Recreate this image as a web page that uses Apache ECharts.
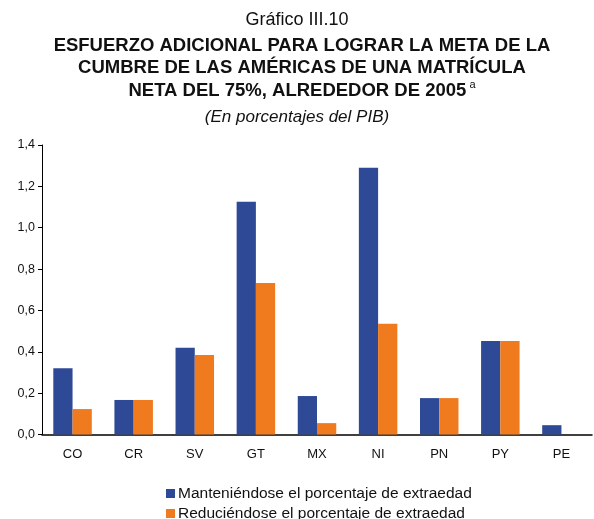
<!DOCTYPE html>
<html>
<head>
<meta charset="utf-8">
<script src="https://cdn.jsdelivr.net/npm/echarts@6/dist/echarts.min.js"></script>
<style>
html, body { margin: 0; padding: 0; background: #fff; }
#chart { width: 594px; height: 519px; }
</style>
</head>
<body>
<div id="chart"></div>
<script>
var countries = ['CO', 'CR', 'SV', 'GT', 'MX', 'NI', 'PN', 'PY', 'PE'];
var seriesNames = ['Manteniéndose el porcentaje de extraedad', 'Reduciéndose el porcentaje de extraedad'];
var keepData = [0.32, 0.167, 0.42, 1.125, 0.186, 1.29, 0.176, 0.452, 0.045];
var reduceData = [0.123, 0.167, 0.385, 0.733, 0.055, 0.535, 0.176, 0.452, 0];

var chart = echarts.init(document.getElementById('chart'));
var font = 'Liberation Sans, Arial, Helvetica, sans-serif';

function legendAt(name, top) {
    return {
        left: 161, top: top,
        itemWidth: 9, itemHeight: 9,
        icon: 'rect',
        textStyle: {fontFamily: font, fontSize: 15.5, color: '#111', padding: [0, 0, 0, -2]},
        data: [name]
    };
}

var option = {
    animation: false,
    title: [
        {
            text: 'Gráfico III.10',
            left: 'center', top: 6,
            textStyle: {fontFamily: font, fontSize: 18, fontWeight: 'normal', color: '#111'}
        },
        {
            text: 'ESFUERZO ADICIONAL PARA LOGRAR LA META DE LA\nCUMBRE DE LAS AMÉRICAS DE UNA MATRÍCULA\nNETA DEL 75%, ALREDEDOR DE 2005{sup| a}',
            left: 297, top: 29.5,
            textAlign: 'center',
            textStyle: {
                fontFamily: font, fontSize: 18.5, fontWeight: 'bold', color: '#111', lineHeight: 22.5,
                rich: {sup: {fontFamily: font, fontSize: 11, fontWeight: 'normal', color: '#111', verticalAlign: 'top', lineHeight: 22.5}}
            }
        },
        {
            text: '(En porcentajes del PIB)',
            left: 'center', top: 104,
            textStyle: {fontFamily: font, fontSize: 17, fontWeight: 'normal', fontStyle: 'italic', color: '#111'}
        }
    ],
    legend: [
        legendAt(seriesNames[0], 480.5),
        legendAt(seriesNames[1], 500.5)
    ],
    grid: {left: 42, right: 2, top: 145, bottom: 84.5},
    xAxis: {
        type: 'category',
        data: countries,
        axisLine: {lineStyle: {color: '#000', width: 1.5}},
        axisTick: {length: 4, lineStyle: {color: '#000'}},
        axisLabel: {fontFamily: font, fontSize: 13, color: '#111', margin: 13}
    },
    yAxis: {
        type: 'value',
        min: 0, max: 1.4, interval: 0.2,
        splitLine: {show: false},
        axisLine: {show: true, lineStyle: {color: '#000', width: 1}},
        axisTick: {show: true, length: 4, lineStyle: {color: '#000'}},
        axisLabel: {
            fontFamily: font, fontSize: 12.5, color: '#111', margin: 7,
            formatter: function (v) { return v.toFixed(1).replace('.', ','); }
        }
    },
    series: [
        {
            name: seriesNames[0],
            type: 'bar',
            data: keepData,
            barGap: 0,
            barCategoryGap: '37%',
            itemStyle: {color: '#2E4A96'}
        },
        {
            name: seriesNames[1],
            type: 'bar',
            data: reduceData,
            barGap: 0,
            barCategoryGap: '37%',
            itemStyle: {color: '#EF7B1E'}
        }
    ]
};
chart.setOption(option);
</script>
</body>
</html>
